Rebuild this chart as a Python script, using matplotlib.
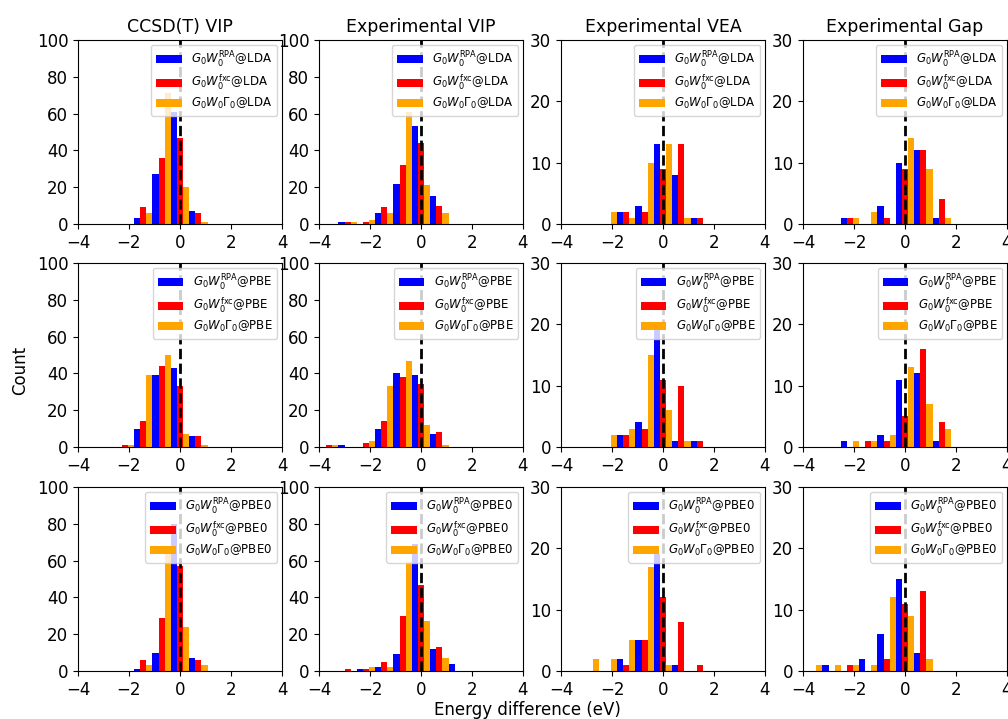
import numpy as np
import matplotlib
import matplotlib.pyplot as plt

matplotlib.use("Agg")

# bins of 0.72 eV centred on zero
bin_centers = np.arange(-5, 6) * 0.72
bin_edges = (np.arange(-6, 6) + 0.5) * 0.72

col_titles = ["CCSD(T) VIP", "Experimental VIP", "Experimental VEA", "Experimental Gap"]
functionals = ["LDA", "PBE", "PBE0"]

# counts per bin (centres -3.6 ... 3.6), one list per method
# row LDA
lda_ccsd_rpa = [0, 0, 0, 3, 27, 61, 7, 0, 0, 0, 0]
lda_ccsd_fxc = [0, 0, 0, 9, 36, 47, 6, 0, 0, 0, 0]
lda_ccsd_gam = [0, 0, 0, 6, 71, 20, 1, 0, 0, 0, 0]
lda_vip_rpa = [0, 1, 0, 6, 22, 53, 15, 0, 0, 0, 0]
lda_vip_fxc = [0, 1, 1, 9, 32, 44, 10, 0, 0, 0, 0]
lda_vip_gam = [0, 1, 2, 6, 61, 21, 6, 0, 0, 0, 0]
lda_vea_rpa = [0, 0, 0, 2, 3, 13, 8, 1, 0, 0, 0]
lda_vea_fxc = [0, 0, 0, 2, 2, 9, 13, 1, 0, 0, 0]
lda_vea_gam = [0, 0, 2, 1, 10, 13, 1, 0, 0, 0, 0]
lda_gap_rpa = [0, 0, 1, 0, 3, 10, 12, 1, 0, 0, 0]
lda_gap_fxc = [0, 0, 1, 0, 1, 9, 12, 4, 0, 0, 0]
lda_gap_gam = [0, 0, 1, 2, 0, 14, 9, 1, 0, 0, 0]
# row PBE
pbe_ccsd_rpa = [0, 0, 0, 10, 39, 43, 6, 0, 0, 0, 0]
pbe_ccsd_fxc = [0, 0, 1, 14, 44, 33, 6, 0, 0, 0, 0]
pbe_ccsd_gam = [0, 0, 1, 39, 50, 7, 1, 0, 0, 0, 0]
pbe_vip_rpa = [0, 1, 0, 10, 40, 39, 7, 0, 0, 0, 0]
pbe_vip_fxc = [1, 0, 2, 14, 38, 34, 8, 0, 0, 0, 0]
pbe_vip_gam = [1, 0, 3, 33, 47, 12, 1, 0, 0, 0, 0]
pbe_vea_rpa = [0, 0, 0, 2, 4, 19, 1, 1, 0, 0, 0]
pbe_vea_fxc = [0, 0, 0, 2, 3, 11, 10, 1, 0, 0, 0]
pbe_vea_gam = [0, 0, 2, 3, 15, 6, 1, 0, 0, 0, 0]
pbe_gap_rpa = [0, 0, 1, 0, 2, 11, 12, 1, 0, 0, 0]
pbe_gap_fxc = [0, 0, 0, 1, 1, 5, 16, 4, 0, 0, 0]
pbe_gap_gam = [0, 0, 1, 1, 2, 13, 7, 3, 0, 0, 0]
# row PBE0
pbe0_ccsd_rpa = [0, 0, 0, 1, 10, 80, 7, 0, 0, 0, 0]
pbe0_ccsd_fxc = [0, 0, 0, 6, 29, 57, 6, 0, 0, 0, 0]
pbe0_ccsd_gam = [0, 0, 0, 3, 68, 24, 3, 0, 0, 0, 0]
pbe0_vip_rpa = [0, 0, 1, 2, 9, 69, 12, 4, 0, 0, 0]
pbe0_vip_fxc = [0, 1, 1, 5, 30, 47, 13, 0, 0, 0, 0]
pbe0_vip_gam = [0, 0, 2, 2, 59, 27, 7, 0, 0, 0, 0]
pbe0_vea_rpa = [0, 0, 0, 2, 5, 19, 1, 0, 0, 0, 0]
pbe0_vea_fxc = [0, 0, 0, 1, 5, 12, 8, 1, 0, 0, 0]
pbe0_vea_gam = [0, 2, 2, 5, 17, 1, 0, 0, 0, 0, 0]
pbe0_gap_rpa = [0, 1, 0, 2, 6, 15, 3, 0, 0, 0, 0]
pbe0_gap_fxc = [0, 0, 1, 0, 2, 11, 13, 0, 0, 0, 0]
pbe0_gap_gam = [1, 1, 1, 1, 12, 9, 2, 0, 0, 0, 0]

counts = [
    [(lda_ccsd_rpa, lda_ccsd_fxc, lda_ccsd_gam), (lda_vip_rpa, lda_vip_fxc, lda_vip_gam),
     (lda_vea_rpa, lda_vea_fxc, lda_vea_gam), (lda_gap_rpa, lda_gap_fxc, lda_gap_gam)],
    [(pbe_ccsd_rpa, pbe_ccsd_fxc, pbe_ccsd_gam), (pbe_vip_rpa, pbe_vip_fxc, pbe_vip_gam),
     (pbe_vea_rpa, pbe_vea_fxc, pbe_vea_gam), (pbe_gap_rpa, pbe_gap_fxc, pbe_gap_gam)],
    [(pbe0_ccsd_rpa, pbe0_ccsd_fxc, pbe0_ccsd_gam), (pbe0_vip_rpa, pbe0_vip_fxc, pbe0_vip_gam),
     (pbe0_vea_rpa, pbe0_vea_fxc, pbe0_vea_gam), (pbe0_gap_rpa, pbe0_gap_fxc, pbe0_gap_gam)],
]

colors = ["blue", "red", "orange"]
W, H = 1008, 719
fig = plt.figure(figsize=(W / 100, H / 100), dpi=100)

lefts = [78, 319, 561, 803]
bottoms = [224, 447, 671]
aw, ah = 204, 184

for i, func in enumerate(functionals):
    labels = [
        r"$G_0W_0^{\rm RPA}$@" + func,
        r"$G_0W_0^{\rm fxc}$@" + func,
        r"$G_0W_0\Gamma_0$@" + func,
    ]
    for j in range(4):
        ax = fig.add_axes([lefts[j] / W, 1 - bottoms[i] / H, aw / W, ah / H])
        ax.hist(
            [bin_centers] * 3,
            bins=bin_edges,
            weights=[np.array(c) for c in counts[i][j]],
            rwidth=1.0,
            color=colors,
            label=labels,
        )
        ax.axvline(0, color="black", linestyle="--", linewidth=2)
        ax.set_xlim(-4, 4)
        ax.set_xticks([-4, -2, 0, 2, 4])
        if j < 2:
            ax.set_ylim(0, 100)
            ax.set_yticks([0, 20, 40, 60, 80, 100])
        else:
            ax.set_ylim(0, 30)
            ax.set_yticks([0, 10, 20, 30])
        ax.tick_params(labelsize=12)
        ax.legend(loc="upper right", fontsize=8.5, labelspacing=0.3,
                  handlelength=2.2, borderaxespad=0.4)
        if i == 0:
            ax.set_title(col_titles[j], fontsize=12.5)

fig.text(20 / W, 1 - 370 / H, "Count", rotation=90, ha="center", va="center", fontsize=12)
fig.text(527 / W, 1 - 710 / H, "Energy difference (eV)", ha="center", va="center", fontsize=12)

fig.savefig("out.png", dpi=100)
